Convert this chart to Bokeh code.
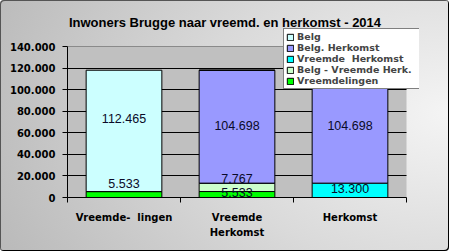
from bokeh.plotting import figure
from bokeh.models import (Range1d, FixedTicker, Legend, LegendItem, Grid,
                          ColumnDataSource, LabelSet, Label)
from bokeh.core.properties import value
from bokeh.embed import file_html
from bokeh.resources import INLINE

# --- data -------------------------------------------------------------
title_text = "Inwoners Brugge naar vreemd. en herkomst - 2014"
categories = ["Vreemde-\u00a0 lingen", "Vreemde\nHerkomst", "Herkomst"]

vreemdelingen = [5533, 5533, 0]
belg_vreemde_herk = [0, 7767, 0]
vreemde_herkomst = [0, 0, 13300]
belg_herkomst = [0, 104698, 104698]
belg = [112465, 0, 0]

series_keys = ["vreemdelingen", "belg_vreemde_herk", "vreemde_herkomst",
               "belg_herkomst", "belg"]
series_names = ["Vreemdelingen", "Belg - Vreemde Herk.", "Vreemde\u00a0 Herkomst",
                "Belg. Herkomst", "Belg"]
series_colors = ["#00ff00", "#ccffcc", "#00ffff", "#9999ff", "#ccffff"]

y_ticks = [0, 20000, 40000, 60000, 80000, 100000, 120000, 140000]
y_tick_labels = ["0", "20.000", "40.000", "60.000", "80.000",
                 "100.000", "120.000", "140.000"]

FONT = "Liberation Sans"
GUIDE_FONT = "DejaVu Sans"

# --- layout (pixels) --------------------------------------------------
W, H = 449, 251
AREA_L, AREA_R, AREA_T, AREA_B = 67, 406, 46, 197   # grey plot area
FRAME_T, FRAME_R = 0, 419       # frame also holds the title and legend
n_cat = len(categories)
y_max = y_ticks[-1]
y_end = y_max * (AREA_B - FRAME_T) / (AREA_B - AREA_T)
x_end = n_cat * (FRAME_R - AREA_L) / (AREA_R - AREA_L)

p = figure(width=W, height=H,
           x_range=Range1d(0, x_end), y_range=Range1d(0, y_end),
           output_backend="svg", toolbar_location=None,
           min_border_left=AREA_L, min_border_right=W - FRAME_R,
           min_border_top=FRAME_T, min_border_bottom=H - AREA_B)

p.styles = {
    "background": "radial-gradient(ellipse 120% 140% at 100% 45%, "
                  "#f4f4f4 0%, #dadada 45%, #b4b4b4 100%)",
    "box-shadow": "inset -1px -1px 0 #000, inset 1px 1px 0 #555",
    "border-radius": "4px",
}
p.border_fill_alpha = 0
p.background_fill_alpha = 0
p.outline_line_color = None

# chart title
p.add_layout(Label(x=W / 2 - AREA_L, y=AREA_B - 22, x_units="screen",
                   y_units="screen", text=title_text, text_align="center",
                   text_baseline="middle", text_font=FONT,
                   text_font_size="13px", text_font_style="bold",
                   text_color="#000000"))

# grey plot area behind grid and bars
area = p.quad(left=0, right=n_cat, bottom=0, top=y_max,
              fill_color="#c0c0c0", line_color=None)
area.level = "image"

# stacked bars
x_pos = [i + 0.5 for i in range(n_cat)]
data = dict(x=x_pos)
for key, vals in zip(series_keys, [vreemdelingen, belg_vreemde_herk,
                                   vreemde_herkomst, belg_herkomst, belg]):
    data[key] = vals
source = ColumnDataSource(data)

renderers = p.vbar_stack(series_keys, x="x", width=0.67, source=source,
                         fill_color=series_colors, line_color="#000000",
                         line_width=1)

# value labels, centred on each non-empty segment
label_shift = {  # pixel nudges per (series, category)
    ("belg", 0): 12, ("vreemdelingen", 0): 11,
    ("vreemdelingen", 1): 2, ("belg_vreemde_herk", 1): 9,
    ("belg_herkomst", 1): 1, ("vreemde_herkomst", 2): 2,
    ("belg_herkomst", 2): 1,
}
lx, ly, lt, lo = [], [], [], []
for ci in range(n_cat):
    base = 0
    for key in series_keys:
        v = data[key][ci]
        if v > 0:
            lx.append(x_pos[ci])
            ly.append(base + v / 2)
            lt.append(f"{v:,}".replace(",", "."))
            lo.append(label_shift.get((key, ci), 0))
        base += v
labels = LabelSet(x="x", y="y", text="t", y_offset="o",
                  source=ColumnDataSource(dict(x=lx, y=ly, t=lt, o=lo)),
                  text_align="center", text_baseline="middle",
                  text_font=value(FONT), text_font_size="12.5px",
                  text_color="#0a0a28")
p.add_layout(labels)

# axes
p.yaxis.ticker = FixedTicker(ticks=y_ticks)
p.yaxis.major_label_overrides = dict(zip(y_ticks, y_tick_labels))
p.yaxis.bounds = (0, y_max)
p.yaxis.major_tick_in = 0
p.yaxis.major_tick_out = 5
p.yaxis.major_tick_line_color = "#000000"
p.yaxis.minor_tick_line_color = None
p.yaxis.major_label_standoff = 7

p.xaxis.ticker = FixedTicker(ticks=x_pos, minor_ticks=list(range(n_cat + 1)))
p.xaxis.major_label_overrides = dict(zip(x_pos, categories))
p.xaxis.bounds = (0, n_cat)
p.xaxis.major_tick_line_color = None
p.xaxis.minor_tick_line_color = "#000000"
p.xaxis.minor_tick_in = 0
p.xaxis.minor_tick_out = 5
p.xaxis.major_label_standoff = 8
p.xaxis.major_label_text_line_height = 1.45

for ax in (p.xaxis, p.yaxis):
    ax.axis_line_color = "#000000"
    ax.major_label_text_font = GUIDE_FONT
    ax.major_label_text_font_size = "10px"
    ax.major_label_text_font_style = "bold"
    ax.major_label_text_color = "#000000"

# grid lines limited to the grey area
p.xgrid.visible = False
p.ygrid.ticker = FixedTicker(ticks=y_ticks[1:-1])
p.ygrid.grid_line_color = "#000000"
top_line = Grid(dimension=1, ticker=FixedTicker(ticks=[y_max]),
                grid_line_color="#8a8a8a")
p.add_layout(top_line)
if "cross_bounds" in Grid.properties():
    p.ygrid.cross_bounds = (0, n_cat)
    top_line.cross_bounds = (0, n_cat)

# legend, top item first
order = [4, 3, 2, 1, 0]
legend = Legend(items=[LegendItem(label=series_names[i], renderers=[renderers[i]])
                       for i in order],
                location=(283 - AREA_L, AREA_B - 89))
legend.label_text_font = GUIDE_FONT
legend.label_text_font_size = "9.5px"
legend.label_text_font_style = "bold"
legend.glyph_width = 8
legend.glyph_height = 8
legend.label_height = 9
legend.label_width = 121
legend.label_standoff = 3
legend.spacing = 0
legend.padding = 2
legend.margin = 0
legend.border_line_color = "#000000"
legend.background_fill_color = "#ffffff"
legend.background_fill_alpha = 1
p.add_layout(legend)

open("out.html", "w").write(file_html(p, INLINE))
